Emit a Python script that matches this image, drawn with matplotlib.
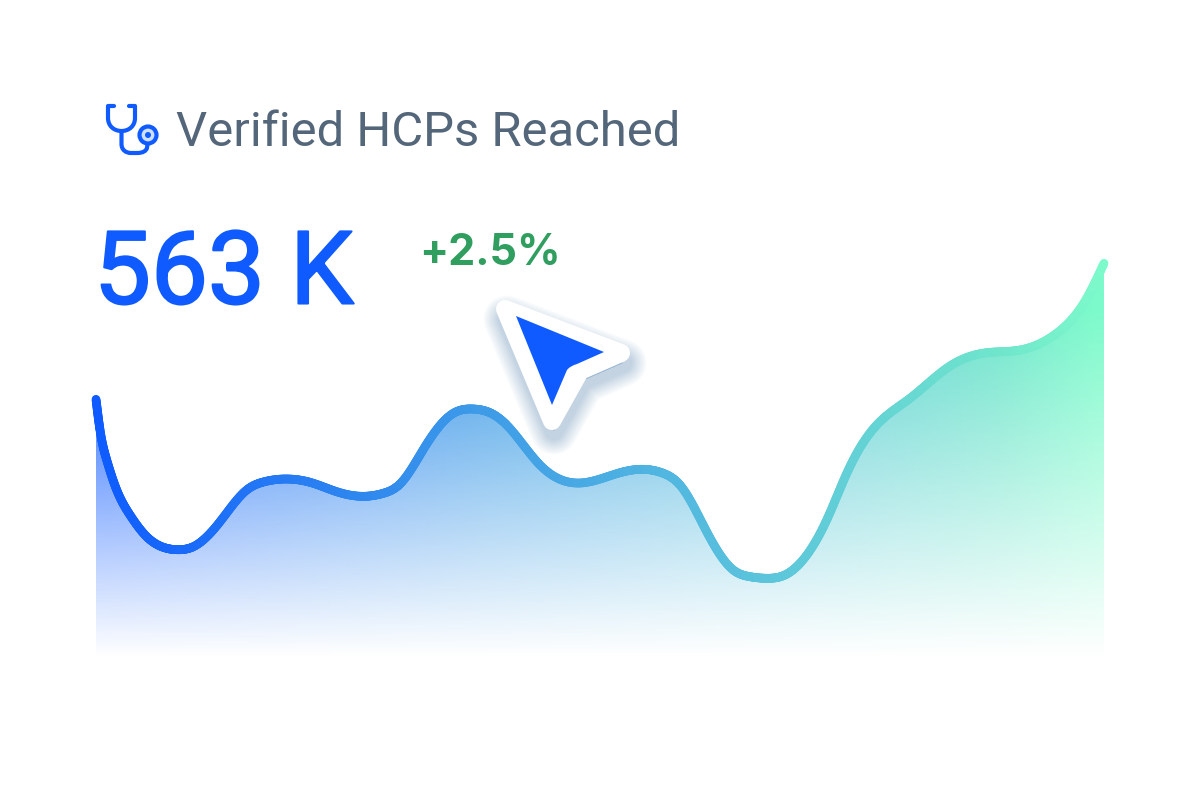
import numpy as np
import matplotlib
matplotlib.use("Agg")
import matplotlib.patheffects as pe
import matplotlib.pyplot as plt
from matplotlib.collections import LineCollection
from matplotlib.colors import LinearSegmentedColormap, to_rgb
from matplotlib.patches import Circle, PathPatch, Polygon
from matplotlib.path import Path

# curve: distance along the axis, height above the baseline
curve_x = [0, 4, 10.7, 20.7, 34, 50.7, 65.7, 81.3, 97.3, 124, 150.7, 167.3, 190.7, 214, 240.7, 269,
           287.3, 304, 329, 357.3, 377.3, 394, 410.7, 444, 484, 524, 547.3, 567.3, 584, 610.7,
           637.3, 654, 670.7, 687.3, 704, 730.7, 752.3, 780.7, 814, 854, 890.7, 924, 960.7,
           990.7, 1008]
curve_y = [260.7, 230, 200, 170, 145, 123.3, 113.3, 110.3, 113.3, 138.3, 170, 178, 181, 177.7,
           168.3, 163.7, 166.7, 176, 213.3, 246.7, 251, 247.3, 235, 195, 177, 187.3, 190.7, 186.7,
           175, 128.3, 90, 83.3, 81.7, 84.3, 96.7, 140, 190, 235, 261.7, 294, 307.3, 310, 326.7,
           361.7, 396.7]

title = "Verified HCPs Reached"
big_value = "563 K"
change = "+2.5%"

BLUE = "#0f5bff"
line_cmap = LinearSegmentedColormap.from_list(
    "line", [(0, BLUE), (0.37, "#3c99e8"), (0.66, "#5bc4dc"), (0.9, "#6fe5cc"), (1, "#7dfacb")]
)


def smooth(x, y, n=24):
    # natural cubic spline through the read points, so the stroke stays round
    x, y = np.asarray(x, float), np.asarray(y, float)
    h = np.diff(x)
    A = np.zeros((len(x), len(x)))
    b = np.zeros(len(x))
    A[0, 0] = A[-1, -1] = 1
    for i in range(1, len(x) - 1):
        A[i, i - 1], A[i, i], A[i, i + 1] = h[i - 1], 2 * (h[i - 1] + h[i]), h[i]
        b[i] = 6 * ((y[i + 1] - y[i]) / h[i] - (y[i] - y[i - 1]) / h[i - 1])
    m = np.linalg.solve(A, b)
    xs, ys = [], []
    for i in range(len(x) - 1):
        t = np.linspace(0, 1, n, endpoint=False)
        xs.append(x[i] + h[i] * t)
        ys.append(
            (1 - t) * y[i] + t * y[i + 1]
            + h[i] ** 2 / 6 * (((1 - t) ** 3 - (1 - t)) * m[i] + (t**3 - t) * m[i + 1])
        )
    xs.append(x[-1:])
    ys.append(y[-1:])
    return np.concatenate(xs), np.concatenate(ys)


fig = plt.figure(figsize=(12, 8), dpi=100, facecolor="white")

# chart axes cover the plot band only
ax = fig.add_axes([96 / 1200, 140 / 800, 1008 / 1200, 660 / 800])
ax.set_axis_off()

sx, sy = smooth(curve_x, curve_y)

# area fill: horizontal colour ramp fading out to the baseline
gx, gy = np.meshgrid(np.linspace(0, 1, 500), np.linspace(0, 1, 400))
rgba = line_cmap(np.clip(gx + 0.04 * (gy - 0.3), 0, 1))
rgba[..., 3] = np.clip((gy * 660 - 2) / 345, 0, 1)
img = ax.imshow(rgba, extent=(0, 1008, 0, 660), origin="lower", aspect="auto", zorder=1)
fill = Polygon(np.column_stack([np.r_[sx, 1008, 0], np.r_[sy, 0, 0]]), closed=True,
               transform=ax.transData, fc="none", ec="none")
ax.add_patch(fill)
img.set_clip_path(fill)

pts = np.column_stack([sx, sy]).reshape(-1, 1, 2)
segs = np.concatenate([pts[:-1], pts[1:]], axis=1)
lc = LineCollection(segs, colors=line_cmap(sx[:-1] / 1008), linewidths=6.3,
                    capstyle="round", zorder=2, clip_on=False)
ax.add_collection(lc)
ax.set_xlim(0, 1008)
ax.set_ylim(0, 660)

# overlay in pixel coordinates for header, icon and pointer
ov = fig.add_axes([0, 0, 1, 1], facecolor="none")
ov.set_axis_off()
ov.set_xlim(0, 1200)
ov.set_ylim(800, 0)

ov.text(176, 128, title, family="Roboto", fontsize=35.3, color="#54667a", va="center_baseline",
        ha="left")
big = ov.text(94, 266, big_value, family="Roboto", fontsize=73, color=BLUE, weight="normal",
              va="center_baseline", ha="left")
# regular weight is a bit thin next to the reference, thicken the stems
big.set_path_effects([pe.withStroke(linewidth=1.5, foreground=BLUE)])
ov.text(419, 249, change, family="Inter", fontsize=31, color="#2f9e5f", weight="bold",
        va="center_baseline", ha="left")

# stethoscope icon
tube = Path(
    [(114, 106), (108, 106), (108, 118), (108, 126), (114, 131), (121.5, 131), (129, 131),
     (135, 126), (135, 118), (135, 106), (129, 106)],
    [Path.MOVETO, Path.LINETO, Path.LINETO, Path.CURVE4, Path.CURVE4, Path.CURVE4, Path.CURVE4,
     Path.CURVE4, Path.CURVE4, Path.LINETO, Path.LINETO],
)
ov.add_patch(PathPatch(tube, fc="none", ec=BLUE, lw=3, joinstyle="round", capstyle="round"))
hose = Path(
    [(121.5, 131), (121.5, 144), (121.5, 150), (126, 153), (131, 153), (137, 153), (137, 153),
     (143, 153), (146, 151), (147, 148), (147.5, 144)],
    [Path.MOVETO, Path.LINETO, Path.CURVE4, Path.CURVE4, Path.CURVE4, Path.LINETO, Path.LINETO,
     Path.CURVE4, Path.CURVE4, Path.CURVE4, Path.LINETO],
)
ov.add_patch(PathPatch(hose, fc="none", ec=BLUE, lw=3, joinstyle="round", capstyle="round"))
ov.add_patch(Circle((148, 135), 8.5, fc="#cfdfff", ec=BLUE, lw=3))
ov.add_patch(Circle((148, 135), 3, fc=BLUE, ec="none"))

# pointer with soft shadow, white border, blue head
border = np.array([(505, 309), (621, 353), (580, 371), (552, 421)], float)
shadow_rgb = to_rgb("#2f6fb0")
for lw in np.arange(34, 12, -1.5):
    ov.add_patch(Polygon(border + (2, 10), closed=True, fc=shadow_rgb, ec=shadow_rgb, lw=lw,
                         alpha=0.02, joinstyle="round"))
ov.add_patch(Polygon(border, closed=True, fc="white", ec="white", lw=13, joinstyle="round"))
head = Path(
    [(516, 316), (604, 352), (577, 364), (570, 366), (567, 370), (552, 405), (516, 316)],
    [Path.MOVETO, Path.LINETO, Path.LINETO, Path.CURVE3, Path.CURVE3, Path.LINETO, Path.CLOSEPOLY],
)
ov.add_patch(PathPatch(head, fc=BLUE, ec="none"))

fig.savefig("out.png", dpi=100)
